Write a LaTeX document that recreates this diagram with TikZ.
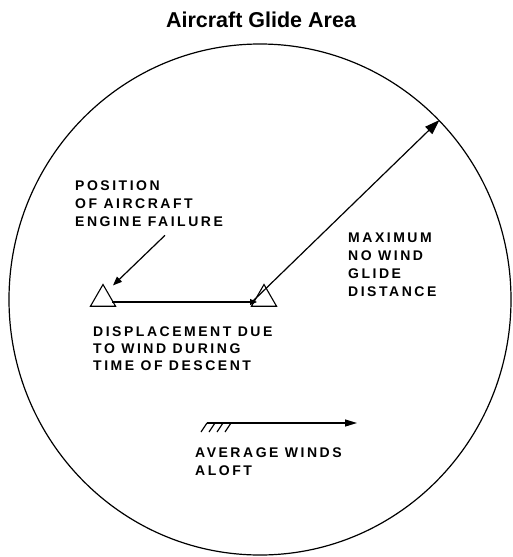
\documentclass[tikz,border=0pt]{standalone}
\usepackage{fontspec}
\setmainfont{Liberation Sans}
\newfontfamily\capsfont[LetterSpace=18]{Liberation Sans}
\usetikzlibrary{shapes.geometric, arrows.meta, calc}

\begin{document}
\begin{tikzpicture}[
  x=1pt, y=-1pt,
  lbl/.style={anchor=north west, inner sep=0pt, align=left, font=\capsfont\bfseries\fontsize{14}{18}\selectfont},
  plane/.style={draw, regular polygon, regular polygon sides=3, minimum size=29pt, inner sep=0pt, line width=1.1pt},
  pointer/.style={line width=1.2pt}
]
  \useasboundingbox (0,0) rectangle (512,557);

  \node[anchor=north, inner sep=0pt, font=\bfseries\fontsize{21.5}{24}\selectfont] (title) at (261,12) {Aircraft Glide Area};
  \node[draw, ellipse, minimum width=502pt, minimum height=511pt, inner sep=0pt, line width=1.2pt] (area) at (260,299.5) {};

  \node[plane] (lt) at (103,299) {};
  \node[plane] (rt) at (264,299) {};

  \node[lbl] (posn) at (75,181) {POSITION\\OF AIRCRAFT\\ENGINE FAILURE};
  \node[lbl] (maxd) at (348,233) {MAXIMUM\\NO WIND\\GLIDE\\DISTANCE};
  \node[lbl, font=\capsfont\bfseries\fontsize{14}{17}\selectfont] (disp) at (93,327) {DISPLACEMENT DUE\\TO WIND DURING\\TIME OF DESCENT};
  \node[lbl] (wind) at (195,448) {AVERAGE WINDS\\ALOFT};

  \draw[pointer, -{Triangle[length=9pt,width=7pt]}] ($(posn.south west)+(90,8)$) -- ($(lt.north)+(10,2)$);
  \draw[pointer, -{Triangle[length=7pt,width=6pt]}] ($(lt.center)+(9,3)$) -- ($(rt.center)+(-7,3)$);
  \draw[pointer, -{Triangle[length=15pt,width=10pt]}] ($(rt.center)+(-11,2)$) -- (area.45);

  % winds aloft
  \coordinate (windtail) at (207,423);
  \coordinate (windhead) at (357,423);
  \draw[pointer, -{Triangle[length=12pt,width=7pt]}] (windtail) -- (windhead);
  \foreach \dx in {0,8,16,24}
    \draw[pointer] ($(windtail)+(\dx,0)$) -- ++(-6,9);
\end{tikzpicture}
\end{document}
